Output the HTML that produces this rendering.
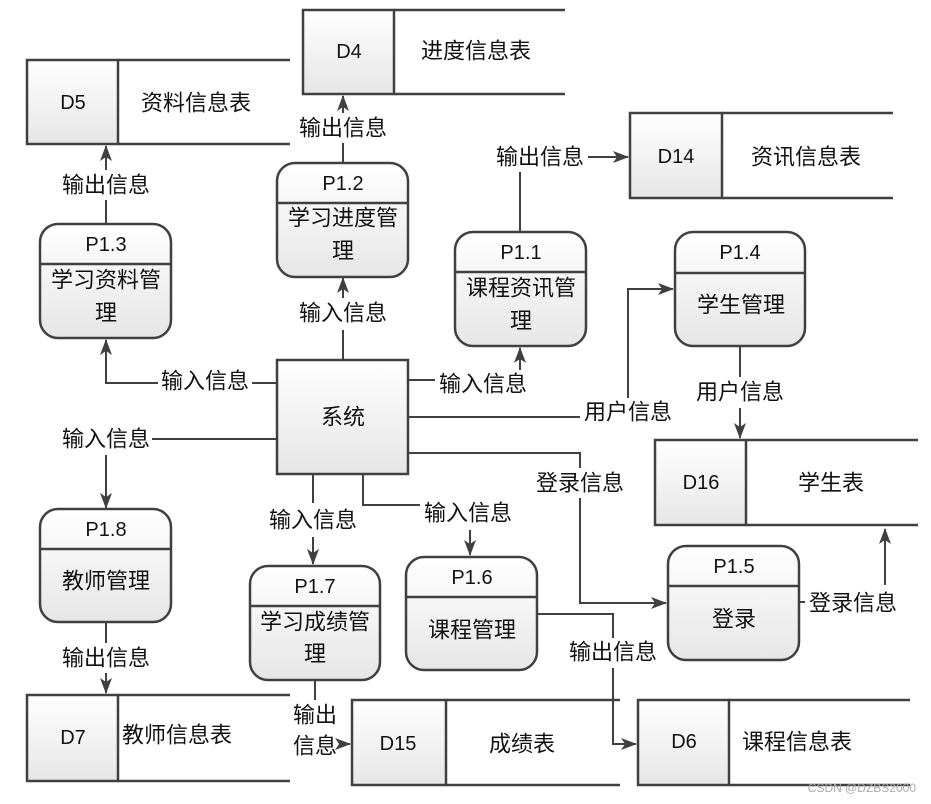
<!DOCTYPE html>
<html><head><meta charset="utf-8"><style>
html,body{margin:0;padding:0;background:#fff;}
svg{display:block;}
text{font-family:"Liberation Sans","Noto Sans CJK SC",sans-serif;fill:#111;}
.l{font-size:22px;text-anchor:middle;dominant-baseline:central;}
.h{font-size:20px;text-anchor:middle;dominant-baseline:central;}
</style></head><body>
<svg width="931" height="804" viewBox="0 0 931 804" xmlns="http://www.w3.org/2000/svg">
<defs>
<linearGradient id="g" x1="0" y1="0" x2="0" y2="1"><stop offset="0" stop-color="#ffffff"/><stop offset="1" stop-color="#e6e6e6"/></linearGradient>
<marker id="a" markerWidth="16" markerHeight="12" refX="15" refY="6" orient="auto" markerUnits="userSpaceOnUse" viewBox="0 0 16 12"><path d="M0,0 L16,6 L0,12 L4,6 z" fill="#404040"/></marker>
</defs>
<g stroke="#404040" stroke-width="2.5" fill="none">
<rect x="303" y="10" width="91" height="84" fill="url(#g)"/><path d="M394,10H565M394,94H565"/>
<rect x="27" y="60" width="91" height="84" fill="url(#g)"/><path d="M118,60H290M118,144H290"/>
<rect x="630" y="113" width="92" height="85" fill="url(#g)"/><path d="M722,113H893M722,198H893"/>
<rect x="655" y="440" width="91" height="85" fill="url(#g)"/><path d="M746,440H918M746,525H918"/>
<rect x="27" y="695" width="91" height="86" fill="url(#g)"/><path d="M118,695H290M118,781H290"/>
<rect x="352" y="700" width="94" height="85" fill="url(#g)"/><path d="M446,700H620M446,785H620"/>
<rect x="638" y="700" width="91" height="85" fill="url(#g)"/><path d="M729,700H910M729,785H910"/>
<rect x="40" y="224" width="131" height="114" rx="18" fill="url(#g)"/><path d="M40,264H171"/>
<rect x="277" y="163" width="131" height="114" rx="18" fill="url(#g)"/><path d="M277,203H408"/>
<rect x="455" y="232" width="131" height="114" rx="18" fill="url(#g)"/><path d="M455,272H586"/>
<rect x="675" y="232" width="130" height="114" rx="18" fill="url(#g)"/><path d="M675,273H805"/>
<rect x="40" y="509" width="131" height="113" rx="18" fill="url(#g)"/><path d="M40,549H171"/>
<rect x="250" y="566" width="130" height="114" rx="18" fill="url(#g)"/><path d="M250,606H380"/>
<rect x="406" y="557" width="131" height="113" rx="18" fill="url(#g)"/><path d="M406,597H537"/>
<rect x="668" y="546" width="131" height="114" rx="18" fill="url(#g)"/><path d="M668,586H799"/>
<rect x="277" y="360" width="131" height="114" fill="url(#g)"/>
</g>
<g stroke="#404040" stroke-width="2" fill="none">
<path d="M343,360V330M343,298V278" marker-end="url(#a)"/>
<path d="M343,163V143M343,113V96" marker-end="url(#a)"/>
<path d="M106,224V200M106,170V146" marker-end="url(#a)"/>
<path d="M277,383H252M158,383H106V340" marker-end="url(#a)"/>
<path d="M277,439H152M106,455V508" marker-end="url(#a)"/>
<path d="M408,380H435" />
<path d="M520,370V348" marker-end="url(#a)"/>
<path d="M520,232V172M588,157H628" marker-end="url(#a)"/>
<path d="M408,417H580M628,398V289H673" marker-end="url(#a)"/>
<path d="M740,346V377M740,408V438" marker-end="url(#a)"/>
<path d="M408,453H580V468M580,498V603H666" marker-end="url(#a)"/>
<path d="M799,602H805M885,585V529" marker-end="url(#a)"/>
<path d="M313,474V503M313,537V564" marker-end="url(#a)"/>
<path d="M363,474V505H420M470,530V555" marker-end="url(#a)"/>
<path d="M106,622V643M106,673V693" marker-end="url(#a)"/>
<path d="M315,680V700M340,744H350" marker-end="url(#a)"/>
<path d="M537,614H613V638M613,668V744H636" marker-end="url(#a)"/>
</g>
<text class="h" x="349" y="52">D4</text><text class="l" x="476" y="51">进度信息表</text>
<text class="h" x="73" y="103">D5</text><text class="l" x="196" y="103">资料信息表</text>
<text class="h" x="676" y="157">D14</text><text class="l" x="806" y="157">资讯信息表</text>
<text class="h" x="701" y="483">D16</text><text class="l" x="831" y="483">学生表</text>
<text class="h" x="73" y="738">D7</text><text class="l" x="177" y="735">教师信息表</text>
<text class="h" x="398" y="744">D15</text><text class="l" x="522" y="744">成绩表</text>
<text class="h" x="684" y="742">D6</text><text class="l" x="797" y="742">课程信息表</text>

<text class="h" x="106" y="245">P1.3</text><text class="l" x="106" y="280">学习资料管</text><text class="l" x="106" y="313">理</text>
<text class="h" x="343" y="184">P1.2</text><text class="l" x="343" y="218">学习进度管</text><text class="l" x="343" y="251">理</text>
<text class="h" x="521" y="253">P1.1</text><text class="l" x="521" y="288">课程资讯管</text><text class="l" x="521" y="321">理</text>
<text class="h" x="740" y="253">P1.4</text><text class="l" x="741" y="305">学生管理</text>
<text class="h" x="106" y="530">P1.8</text><text class="l" x="106" y="581">教师管理</text>
<text class="h" x="315" y="587">P1.7</text><text class="l" x="315" y="622">学习成绩管</text><text class="l" x="315" y="654">理</text>
<text class="h" x="472" y="578">P1.6</text><text class="l" x="472" y="630">课程管理</text>
<text class="h" x="734" y="567">P1.5</text><text class="l" x="734" y="619">登录</text>
<text class="l" x="343" y="417">系统</text>

<text class="l" x="343" y="128">输出信息</text>
<text class="l" x="106" y="185">输出信息</text>
<text class="l" x="343" y="313">输入信息</text>
<text class="l" x="205" y="381">输入信息</text>
<text class="l" x="106" y="439">输入信息</text>
<text class="l" x="483" y="384">输入信息</text>
<text class="l" x="540" y="157">输出信息</text>
<text class="l" x="628" y="412">用户信息</text>
<text class="l" x="740" y="392">用户信息</text>
<text class="l" x="580" y="483">登录信息</text>
<text class="l" x="853" y="603">登录信息</text>
<text class="l" x="313" y="520">输入信息</text>
<text class="l" x="468" y="513">输入信息</text>
<text class="l" x="106" y="658">输出信息</text>
<text class="l" x="315" y="715">输出</text><text class="l" x="315" y="746">信息</text>
<text class="l" x="613" y="652">输出信息</text>
<text x="916" y="792" style="font-size:12px;text-anchor:end;fill:#aaa;">CSDN @DZBS2000</text>
</svg>
</body></html>
